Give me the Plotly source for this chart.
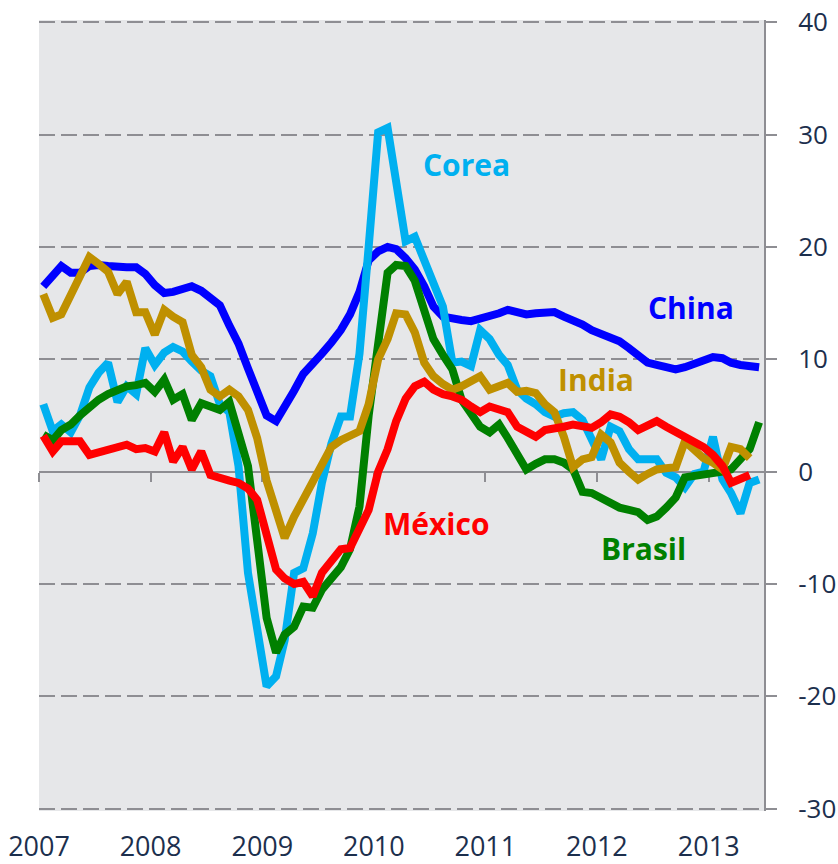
import pandas as pd
import plotly.graph_objects as go

# Monthly data, Jan 2007 - Jun 2013 (78 months)
months = pd.date_range("2007-01-01", periods=78, freq="MS") + pd.Timedelta(days=14)

china = [16.5, 17.5, 18.3, 17.7, 17.7, 18.3, 18.4, 18.3, 18.2, 18.2, 18.2, 17.6,
         16.6, 15.9, 16.0, 16.2, 16.5, 16.1, 15.5, 14.8, 13.0, 11.4, 9.2, 7.0,
         5.0, 4.5, 5.7, 7.2, 8.7, 9.5, 10.5, 11.5, 12.6, 14.0, 16.0, 18.8,
         19.6, 20.0, 19.8, 19.0, 18.0, 16.5, 14.7, 13.8, 13.6, 13.5, 13.4, 13.6,
         13.9, 14.1, 14.4, 14.2, 14.0, 14.1, 14.2, 14.2, 13.8, 13.5, 13.1, 12.6,
         12.2, 11.9, 11.6, 11.0, 10.3, 9.7, 9.5, 9.3, 9.1, 9.3, 9.6, 10.0,
         10.2, 10.1, 9.7, 9.5, 9.4, 9.3]

corea = [6.0, 3.6, 4.2, 3.5, 5.0, 7.5, 8.8, 9.7, 6.2, 7.6, 6.9, 11.0,
         9.5, 10.6, 11.1, 10.7, 9.8, 9.0, 8.5, 6.0, 5.3, 0.5, -9.0, -14.5,
         -19.1, -18.2, -15.0, -9.0, -8.6, -5.5, -1.0, 2.5, 4.9, 4.9, 10.5, 20.0,
         30.2, 30.6, 25.7, 20.5, 20.9, 18.8, 16.8, 14.7, 9.7, 9.8, 9.4, 12.6,
         11.8, 10.4, 9.5, 7.3, 6.5, 6.0, 5.3, 4.9, 5.2, 5.3, 4.6, 3.0,
         1.1, 4.0, 3.6, 2.0, 1.1, 1.1, 1.1, -0.1, -0.5, -1.4, -0.2, 0.0,
         3.1, -0.7, -1.9, -3.7, -1.0, -0.7]

brasil = [3.3, 2.8, 3.7, 4.2, 5.0, 5.8, 6.4, 6.9, 7.2, 7.6, 7.7, 7.9,
          7.1, 8.2, 6.4, 6.9, 4.6, 6.1, 5.8, 5.5, 6.2, 3.5, 0.5, -6.1,
          -13.0, -16.1, -14.5, -13.8, -12.0, -12.1, -10.5, -9.5, -8.5, -6.9, -3.1, 5.0,
          11.0, 17.7, 18.4, 18.3, 17.0, 14.5, 11.8, 10.4, 9.1, 6.4, 5.3, 4.0,
          3.5, 4.2, 3.0, 1.6, 0.2, 0.7, 1.1, 1.1, 0.8, 0.2, -1.8, -1.9,
          -2.3, -2.8, -3.2, -3.4, -3.6, -4.3, -4.0, -3.2, -2.3, -0.5, -0.4, -0.3,
          -0.1, 0.0, 0.2, 1.0, 2.0, 4.4]

india = [15.8, 13.7, 14.0, 15.6, 17.5, 19.1, 18.5, 17.8, 15.8, 16.9, 14.2, 14.2,
         12.2, 14.4, 13.8, 13.3, 10.4, 9.3, 7.3, 6.7, 7.3, 6.7, 5.5, 3.0,
         -0.8, -3.5, -5.9, -4.0, -2.5, -1.2, 0.5, 2.2, 2.8, 3.2, 3.6, 6.0,
         10.0, 11.8, 14.1, 14.0, 12.4, 9.7, 8.5, 7.8, 7.3, 7.6, 8.1, 8.5,
         7.3, 7.6, 7.9, 7.1, 7.2, 7.0, 6.0, 5.3, 3.1, 0.4, 1.1, 1.3,
         3.3, 2.6, 0.8, 0.0, -0.7, -0.2, 0.2, 0.3, 0.4, 2.7, 2.0, 1.2,
         0.8, 0.2, 2.2, 2.0, 1.2, None]

mexico = [3.2, 1.8, 2.7, 2.7, 2.7, 1.5, 1.7, 1.9, 2.1, 2.4, 2.0, 2.1,
          1.8, 3.5, 0.9, 2.2, 0.2, 1.8, -0.3, -0.6, -0.8, -1.0, -1.5, -2.5,
          -5.5, -8.7, -9.5, -10.0, -9.8, -11.1, -9.0, -7.8, -6.9, -6.8, -5.0, -3.4,
          0.0, 2.0, 4.5, 6.5, 7.6, 8.0, 7.3, 6.9, 6.7, 6.4, 5.8, 5.3,
          5.8, 5.5, 5.3, 4.0, 3.5, 3.1, 3.7, 3.8, 4.0, 4.2, 4.0, 3.9,
          4.4, 5.1, 4.9, 4.4, 3.7, 4.1, 4.5, 4.0, 3.5, 3.0, 2.7, 2.2,
          1.5, 0.5, -1.0, -0.6, -0.3, None]

year_ticks = ["2007-01-01", "2008-01-01", "2009-01-01", "2010-01-01",
              "2011-01-01", "2012-01-01", "2013-01-01"]
year_labels = ["2007", "2008", "2009", "2010", "2011", "2012", "2013"]

y_ticks = [-30, -20, -10, 0, 10, 20, 30, 40]
y_labels = ["-30", "-20", "-10", "0", "10", "20", "30", "40"]

series = [
    ("China", china, "#0000FF"),
    ("Corea", corea, "#00B0F0"),
    ("Brasil", brasil, "#008000"),
    ("India", india, "#BF9000"),
    ("México", mexico, "#FF0000"),
]

label_pos = {
    "Corea": ("2010-10-30", 27.3),
    "China": ("2012-11-05", 14.6),
    "India": ("2011-12-28", 8.2),
    "México": ("2010-07-24", -4.6),
    "Brasil": ("2012-06-01", -6.8),
}

FONT = "Open Sans"
GRID = "#8E8E93"
TXT = "#1C2F4D"
XRANGE = ["2007-01-01", "2013-07-01"]
YRANGE = [-30.2, 40.2]

fig = go.Figure()
for name, vals, col in series:
    fig.add_trace(go.Scatter(x=months, y=vals, mode="lines", name=name,
                             xaxis="x2", yaxis="y",
                             line=dict(color=col, width=8),
                             connectgaps=False, showlegend=False))

for name, vals, col in series:
    x, y = label_pos[name]
    fig.add_annotation(x=x, y=y, xref="x", yref="y", text=f"<b>{name}</b>",
                       showarrow=False, font=dict(family=FONT, size=30, color=col))

fig.update_layout(
    width=838, height=864,
    margin=dict(l=39, r=74, t=20, b=53),
    paper_bgcolor="white",
    plot_bgcolor="#E6E7E9",
    font=dict(family=FONT, size=26, color=TXT),
    xaxis=dict(
        type="date", range=XRANGE, automargin=False,
        tickvals=year_ticks, ticktext=year_labels,
        showgrid=False, zeroline=False, showline=False,
        ticks="outside", ticklen=12, tickcolor="rgba(0,0,0,0)",
        ticklabeloverflow="allow",
        tickfont=dict(family=FONT, size=27, color=TXT),
    ),
    xaxis2=dict(
        type="date", range=XRANGE, automargin=False,
        overlaying="x", anchor="free",
        position=(0 - YRANGE[0]) / (YRANGE[1] - YRANGE[0]), side="bottom",
        tickvals=year_ticks, showticklabels=False,
        showgrid=False, zeroline=False,
        showline=True, linecolor=GRID, linewidth=2,
        ticks="outside", ticklen=9, tickwidth=2, tickcolor=GRID,
        layer="below traces",
    ),
    yaxis=dict(
        side="right", range=YRANGE, automargin=False,
        tickvals=y_ticks, ticktext=y_labels,
        showgrid=True, gridcolor=GRID, gridwidth=2, griddash="16px,6px",
        zeroline=False,
        showline=True, linecolor=GRID, linewidth=2,
        ticks="outside", ticklen=11, tickwidth=2, tickcolor=GRID,
        ticklabelstandoff=16, ticklabeloverflow="allow",
        tickfont=dict(family=FONT, size=26, color=TXT),
    ),
)

fig.write_html(
    "out.html",
    config={"displayModeBar": False},
    post_script="document.body.style.margin='0';document.body.style.overflow='hidden';",
)
